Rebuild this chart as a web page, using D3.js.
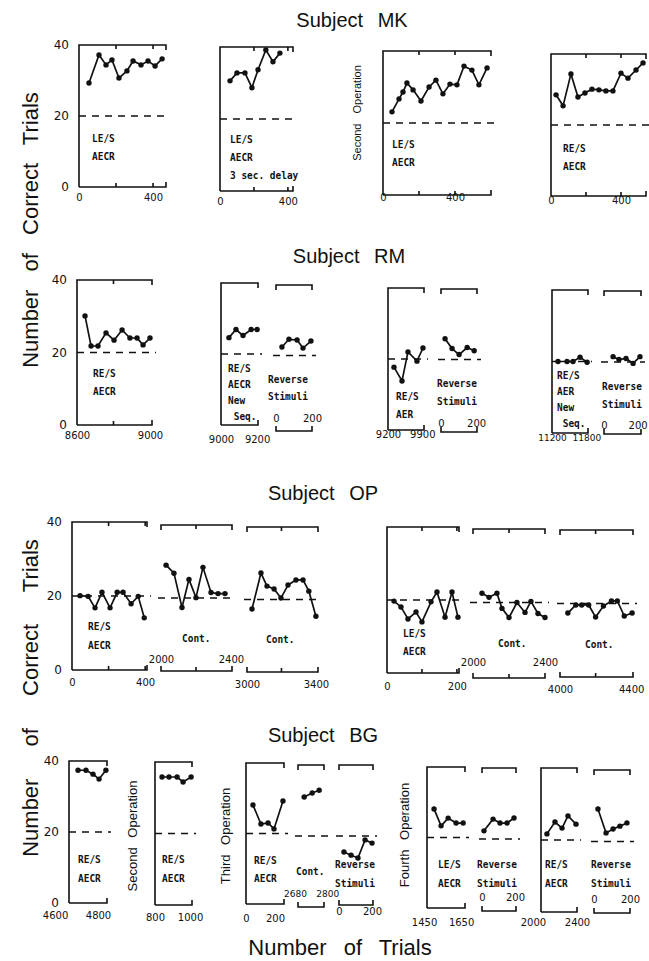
<!DOCTYPE html>
<html>
<head>
<meta charset="utf-8">
<script src="https://cdn.jsdelivr.net/npm/d3@7"></script>
<style>
  body { margin: 0; background: #fff; }
  svg { display: block; }
  text { fill: #111; }
  .num { font-family: "DejaVu Sans", sans-serif; font-size: 10px; }
  .ynum { font-family: "DejaVu Sans", sans-serif; font-size: 12px; }
  .tw { font-family: "DejaVu Sans Mono", monospace; font-size: 11px; font-weight: bold; }
  .big { font-family: "Liberation Sans", sans-serif; }
</style>
</head>
<body>
<svg id="chart" width="649" height="961"></svg>
<script>
// [trials, correct] per session block

// Subject MK
const mkLE    = [[54,29.3],[108,37.2],[146,34.4],[178,35.8],[216,30.7],[259,32.7],[292,35.5],[335,34.4],[373,35.5],[411,34.1],[449,36.1]];
const mkDelay = [[59,30.6],[100,32.8],[147,32.8],[188,28.7],[224,33.7],[270,39.2],[312,35.9],[353,38.3]];
const mkLE2   = [[50,23.1],[89,26.7],[111,28.6],[133,31.1],[167,29.2],[211,26.1],[256,30.0],[294,31.9],[333,28.1],[372,30.8],[411,30.6],[450,35.8],[494,34.7],[533,30.6],[578,35.3]];
const mkRE2   = [[29,28.5],[69,25.4],[114,34.4],[154,27.9],[194,29],[234,30.1],[274,29.9],[314,29.6],[354,29.6],[400,34.6],[440,33.2],[486,35.5],[526,37.5]];

// Subject RM
const rmRE     = [[8644,30.1],[8677,21.8],[8715,21.8],[8759,25.4],[8803,23.4],[8847,26.2],[8890,24],[8929,24],[8962,22.1],[9000,24]];
const rmNewSeq = [[9044,24.6],[9083,26.9],[9122,25.2],[9167,26.9],[9200,26.9]];
const rmRev1   = [[33,22.4],[72,24.6],[117,24.4],[150,22.1],[194,24.1]];
const rmAER    = [[9322,17.7],[9486,13.8],[9608,22],[9792,19.4],[9914,23.1]];
const rmRev2   = [[23,25.9],[63,23.1],[103,21.4],[149,23.4],[189,22.5]];
const rmAERNew = [[11305,20],[11463,20],[11568,20],[11691,21.2],[11814,19.8]];
const rmRev3   = [[54,21.5],[89,20.7],[131,21],[173,19.6],[214,21.5]];

// Subject OP
const opRE    = [[44,20.1],[88,19.9],[126,16.8],[164,21],[208,16.8],[247,21],[279,21],[323,17.9],[362,19.9],[395,14.1]];
const opCont1 = [[2029,29],[2074,26.8],[2120,17.4],[2160,25.1],[2200,20.1],[2240,28.4],[2286,21.5],[2326,21.2],[2366,21.2]];
const opCont2 = [[3029,17.4],[3081,27.3],[3116,23.7],[3157,22.9],[3197,20.4],[3238,24],[3284,25.4],[3325,25.4],[3359,22.3],[3400,15.4]];
const opLE    = [[20,19.7],[40,18.1],[60,14.8],[83,16.7],[100,14],[126,19.5],[143,22.2],[166,15.3],[186,22.2],[203,15.3]];
const opCont3 = [[2050,22.5],[2089,21.4],[2133,22.5],[2161,18.4],[2200,15.9],[2244,20],[2289,17.3],[2322,20.3],[2361,17],[2400,15.9]];
const opCont4 = [[4044,17.4],[4089,19.6],[4122,19.6],[4161,19.6],[4200,16.3],[4244,19.3],[4289,20.7],[4322,20.7],[4361,16.6],[4405,17.4]];

// Subject BG
const bgRE   = [[4707,37.4],[4744,37.4],[4777,36.3],[4805,34.9],[4837,37.4]];
const bgRE2  = [[840,35.8],[880,35.8],[926,35.8],[960,34.4],[1006,35.8]];
const bgRE3  = [[48,28.1],[103,22.7],[152,23],[193,21.3],[255,29.2]];
const bgCont = [[2714,31],[2744,32.1],[2770,32.9]];
const bgRev1 = [[30,15.5],[73,14.6],[115,13.8],[158,18.9],[200,18]];
const bgLE   = [[1504,28.1],[1542,23.3],[1580,25.5],[1623,24.1],[1661,24.1]];
const bgRev2 = [[12,22.3],[67,25.6],[109,24.5],[152,24.5],[194,25.9]];
const bgRE4  = [[2127,21.7],[2200,25],[2264,23.3],[2318,26.7],[2391,24.4]];
const bgRev3 = [[22,29.1],[67,22.4],[106,23.5],[144,24.3],[183,25.2]];

const yTicks = [0, 20, 40];
const chance = 20;
const subjects = ["Subject MK", "Subject RM", "Subject OP", "Subject BG"];

// layout of every little frame (pixel boxes), kept apart from the data
const frames = [
  // MK
  { d: mkLE,    x: [79,166],  y: [45,187],  dom: [0,470],  kind: "axis", ticks: [200,400], tl: [0,400], tlY: 201, txt: ["LE/S","AECR"], tx: 92, ty: 142, yLab: true },
  { d: mkDelay, x: [220,293], y: [47,191],  dom: [0,430],  kind: "axis", ticks: [200,400], tl: [0,400], tlY: 205, txt: ["LE/S","AECR","3 sec. delay"], tx: 230, ty: 143 },
  { d: mkLE2,   x: [383,491], y: [51,195],  dom: [0,600],  kind: "axis", ticks: [200,400], tl: [0,400], tlY: 201, txt: ["LE/S","AECR"], tx: 392, ty: 148 },
  { d: mkRE2,   x: [551,646], y: [54,196],  dom: [0,543],  kind: "axis", ticks: [200,400], tl: [0,400], tlY: 204, txt: ["RE/S","AECR"], tx: 563, ty: 152 },
  // RM
  { d: rmRE,     x: [77,152],  y: [280,425], dom: [8600,9011],  kind: "axis", ticks: [8800], tl: [8600,9000], tlY: 439, txt: ["RE/S","AECR"], tx: 93, ty: 377, yLab: true },
  { d: rmNewSeq, x: [221,258], y: [283,425], dom: [9000,9205],  kind: "axis", ticks: [], tl: [9000,9200], tlY: 443, txt: ["RE/S","AECR","New"," Seq."], tx: 228, ty: 372, lh: 16 },
  { d: rmRev1,   x: [276,312], y: [285,426], dom: [0,200],      kind: "bracket", ticks: [], tl: [0,200], tlY: 422, by: 431, txt: ["Reverse","Stimuli"], tx: 268, ty: 383, lh: 17 },
  { d: rmAER,    x: [388,424], y: [288,430], dom: [9200,9935],  kind: "axis", ticks: [], tl: [9200,9900], tlY: 438, txt: ["RE/S","AER"], tx: 396, ty: 400 },
  { d: rmRev2,   x: [441,477], y: [289,430], dom: [0,205],      kind: "bracket", ticks: [], tl: [0,200], tlY: 427, by: 432, txt: ["Reverse","Stimuli"], tx: 437, ty: 387 },
  { d: rmAERNew, x: [552,588], y: [290,433], dom: [11200,11830], kind: "axis", ticks: [], tl: [11200,11800], tlY: 442, txt: ["RE/S","AER","New"," Seq."], tx: 557, ty: 379, lh: 16, small: true },
  { d: rmRev3,   x: [604,641], y: [291,433], dom: [0,220],      kind: "bracket", ticks: [], tl: [0,200], tlY: 429, by: 434, txt: ["Reverse","Stimuli"], tx: 602, ty: 390 },
  // OP
  { d: opRE,    x: [72,147],  y: [522,670], dom: [0,410],     kind: "axis", ticks: [200,400], tl: [0,400], tlY: 686, txt: ["RE/S","AECR"], tx: 88, ty: 630, lh: 19, yLab: true },
  { d: opCont1, x: [161,232], y: [525,671], dom: [2000,2406], kind: "bracket", ticks: [2200], tl: [2000,2400], tlY: 663, txt: ["Cont."], tx: 182, ty: 642 },
  { d: opCont2, x: [247,318], y: [527,672], dom: [3000,3412], kind: "bracket", ticks: [3200], tl: [3000,3400], tlY: 688, txt: ["Cont."], tx: 266, ty: 643 },
  { d: opLE,    x: [387,459], y: [527,673], dom: [0,206],     kind: "axis", ticks: [100,200], tl: [0,200], tlY: 690, txt: ["LE/S","AECR"], tx: 403, ty: 637 },
  { d: opCont3, x: [473,545], y: [529,676], dom: [2000,2400], kind: "bracket", ticks: [2200], tl: [2000,2400], tlY: 666, by: 678, txt: ["Cont."], tx: 498, ty: 647 },
  { d: opCont4, x: [560,633], y: [530,677], dom: [4000,4410], kind: "bracket", ticks: [4200], tl: [4000,4400], tlY: 693, txt: ["Cont."], tx: 585, ty: 648 },
  // BG
  { d: bgRE,   x: [69,107],  y: [761,903], dom: [4665,4842], kind: "axis", ticks: [], tl: [4600,4800], tlY: 919, txt: ["RE/S","AECR"], tx: 78, ty: 863, lh: 19, yLab: true },
  { d: bgRE2,  x: [155,192], y: [762,905], dom: [800,1011],  kind: "axis", ticks: [], tl: [800,1000], tlY: 921, txt: ["RE/S","AECR"], tx: 162, ty: 863, lh: 19 },
  { d: bgRE3,  x: [246,284], y: [763,904], dom: [0,262],     kind: "axis", ticks: [], tl: [0,200], tlY: 922, txt: ["RE/S","AECR"], tx: 254, ty: 864 },
  { d: bgCont, x: [298,324], y: [765,907], dom: [2691,2788], kind: "bracket", ticks: [], tl: [2680,2800], tlY: 898, txt: ["Cont."], tx: 296, ty: 875, small: true },
  { d: bgRev1, x: [339,373], y: [765,907], dom: [0,206],     kind: "bracket", ticks: [], tl: [0,200], tlY: 915, by: 905, txt: ["Reverse","Stimuli"], tx: 335, ty: 868, lh: 19 },
  { d: bgLE,   x: [427,465], y: [767,908], dom: [1466,1671], kind: "axis", ticks: [], tl: [1450,1650], tlY: 926, txt: ["LE/S","AECR"], tx: 438, ty: 868, lh: 19 },
  { d: bgRev2, x: [482,516], y: [768,910], dom: [0,206],     kind: "bracket", ticks: [], tl: [0,200], tlY: 901, by: 911, txt: ["Reverse","Stimuli"], tx: 477, ty: 868, lh: 19 },
  { d: bgRE4,  x: [541,577], y: [768,912], dom: [2073,2400], kind: "axis", ticks: [], tl: [2000,2400], tlY: 926, txt: ["RE/S","AECR"], tx: 545, ty: 868, lh: 19 },
  { d: bgRev3, x: [594,630], y: [770,913], dom: [0,200],     kind: "bracket", ticks: [], tl: [0,200], tlY: 903, txt: ["Reverse","Stimuli"], tx: 591, ty: 868, lh: 19 }
];

const titlePos = [[352,27],[349,263],[323,500],[323,742]];
const opLabels = [
  { t: "Second Operation", x: 361, y: 113, s: 11, ws: 7 },
  { t: "Second Operation", x: 137, y: 836, s: 13, ws: 6 },
  { t: "Third Operation",  x: 230, y: 836, s: 13, ws: 6 },
  { t: "Fourth Operation", x: 409, y: 835, s: 13, ws: 6 }
];

const svg = d3.select("#chart");
const ink = "#111";

frames.forEach(f => {
  const x = d3.scaleLinear().domain(f.dom).range(f.x);
  const y = d3.scaleLinear().domain([40, 0]).range(f.y);
  const g = svg.append("g");
  const [x0, x1] = f.x, top = y(40), bot = f.by ?? y(0), t = 5;

  // frame: open box or bracket pair
  const p = d3.path();
  if (f.kind === "axis") {
    p.moveTo(x0, bot); p.lineTo(x0, top); p.lineTo(x1, top); p.lineTo(x1, top + t);
    p.moveTo(x0, bot); p.lineTo(x1, bot); p.lineTo(x1, bot - t);
  } else {
    p.moveTo(x0, top + t); p.lineTo(x0, top); p.lineTo(x1, top); p.lineTo(x1, top + t);
    p.moveTo(x0, bot - t); p.lineTo(x0, bot); p.lineTo(x1, bot); p.lineTo(x1, bot - t);
  }
  f.ticks.forEach(v => {
    p.moveTo(x(v), top); p.lineTo(x(v), top + 4);
    p.moveTo(x(v), bot); p.lineTo(x(v), bot - 4);
  });
  g.append("path").attr("d", p.toString())
    .attr("fill", "none").attr("stroke", ink).attr("stroke-width", 1.6);

  // chance level
  g.append("line")
    .attr("x1", f.kind === "axis" ? x0 : x0 - 3).attr("x2", x1 + 4)
    .attr("y1", y(chance)).attr("y2", y(chance))
    .attr("stroke", ink).attr("stroke-width", 1.5)
    .attr("stroke-dasharray", "7,6");

  // x tick labels
  const ax = g.append("g")
    .attr("transform", `translate(0,${f.tlY - 7})`)
    .call(d3.axisBottom(x).tickValues(f.tl).tickSize(0).tickPadding(0).tickFormat(d3.format("d")));
  ax.select(".domain").remove();
  ax.selectAll("text").attr("class", "num").attr("font-family", null).attr("font-size", null)
    .attr("fill", ink).style("font-size", f.small ? "9px" : null);

  if (f.yLab) {
    const ay = g.append("g")
      .attr("transform", `translate(${x0},0)`)
      .call(d3.axisLeft(y).tickValues(yTicks).tickSize(0).tickPadding(10));
    ay.select(".domain").remove();
    ay.selectAll("text").attr("class", "ynum").attr("font-family", null).attr("font-size", null).attr("fill", ink);
  }

  // data
  const line = d3.line().x(d => x(d[0])).y(d => y(d[1]));
  g.append("path").datum(f.d).attr("d", line)
    .attr("fill", "none").attr("stroke", ink).attr("stroke-width", 1.7);
  g.selectAll("circle").data(f.d).join("circle")
    .attr("cx", d => x(d[0])).attr("cy", d => y(d[1])).attr("r", 2.7)
    .attr("fill", ink);

  // condition text (condensed typewriter look)
  const lh = f.lh ?? 18;
  f.txt.forEach((s, i) => {
    g.append("text").attr("class", "tw")
      .attr("transform", `translate(${f.tx},${f.ty + i * lh}) scale(0.86,1)`)
      .attr("xml:space", "preserve").text(s);
  });
});

// subject titles
svg.selectAll(".title").data(subjects).join("text")
  .attr("class", "big title")
  .attr("x", (d, i) => titlePos[i][0]).attr("y", (d, i) => titlePos[i][1])
  .attr("text-anchor", "middle").attr("font-size", 20).attr("word-spacing", 9)
  .text(d => d);

// operation labels
opLabels.forEach(o => {
  svg.append("text").attr("class", "big")
    .attr("transform", `translate(${o.x},${o.y}) rotate(-90)`)
    .attr("text-anchor", "middle").attr("font-size", o.s).attr("word-spacing", o.ws)
    .text(o.t);
});

// axis titles
[[38,230,12],[38,698,26]].forEach(([xx, yy, ws]) => {
  svg.append("text").attr("class", "big")
    .attr("transform", `translate(${xx},${yy}) rotate(-90)`)
    .attr("text-anchor", "middle").attr("font-size", 22).attr("word-spacing", ws)
    .text("Number of Correct Trials");
});
svg.append("text").attr("class", "big")
  .attr("x", 340).attr("y", 955).attr("text-anchor", "middle")
  .attr("font-size", 22).attr("word-spacing", 11)
  .text("Number of Trials");
</script>
</body>
</html>
